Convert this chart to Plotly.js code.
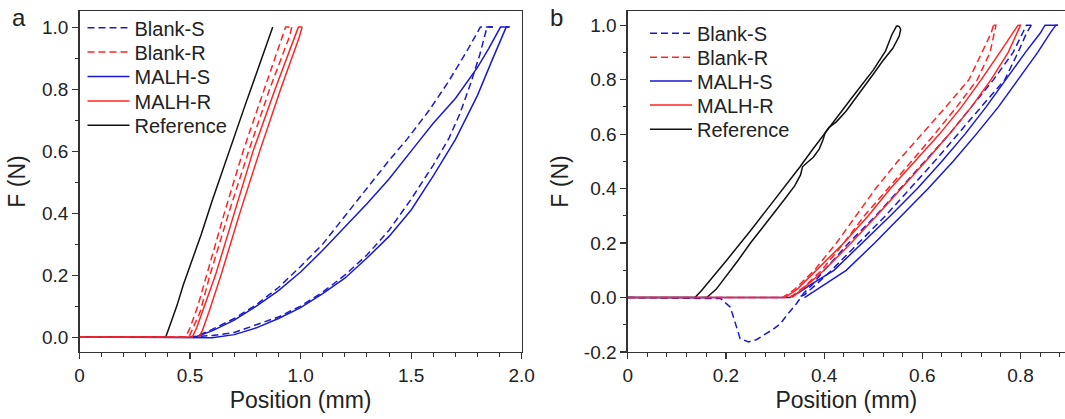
<!DOCTYPE html>
<html>
<head>
<meta charset="utf-8">
<script src="https://cdn.plot.ly/plotly-3.0.1.min.js"></script>
<style>
  html, body { margin: 0; padding: 0; background: #ffffff; }
  #chart { width: 1065px; height: 419px; }
</style>
</head>
<body>
<div id="chart"></div>
<script>
// ---------------- Series names & tick labels ----------------
const seriesNames = ['Blank-S', 'Blank-R', 'MALH-S', 'MALH-R', 'Reference'];

const aXTickVals = [0, 0.5, 1.0, 1.5, 2.0];
const aXTickText = ['0', '0.5', '1.0', '1.5', '2.0'];
const aYTickVals = [0, 0.2, 0.4, 0.6, 0.8, 1.0];
const aYTickText = ['0.0', '0.2', '0.4', '0.6', '0.8', '1.0'];
const bXTickVals = [0, 0.2, 0.4, 0.6, 0.8];
const bXTickText = ['0', '0.2', '0.4', '0.6', '0.8'];
const bYTickVals = [-0.2, 0, 0.2, 0.4, 0.6, 0.8, 1.0];
const bYTickText = ['-0.2', '0.0', '0.2', '0.4', '0.6', '0.8', '1.0'];

// ---------------- Panel a : Position (mm) vs F (N) ----------------
const aRefX = [0, 0.39, 0.41, 0.43, 0.44, 0.47, 0.5, 0.55, 0.6, 0.65, 0.7, 0.75, 0.8, 0.85, 0.874];
const aRefY = [0, 0, 0.04, 0.08, 0.1, 0.17, 0.23, 0.33, 0.44, 0.545, 0.65, 0.75, 0.85, 0.95, 1.0];

const aBlankS1X = [0, 0.49, 0.55, 0.6, 0.7, 0.8, 0.9, 1.0, 1.1, 1.2, 1.3, 1.4, 1.5, 1.6, 1.67, 1.72, 1.77, 1.81, 1.843, 1.87];
const aBlankS1Y = [0, 0, 0.003, 0.005, 0.015, 0.04, 0.065, 0.1, 0.145, 0.2, 0.265, 0.345, 0.445, 0.555, 0.64, 0.72, 0.82, 0.91, 1.0, 1.0];
const aBlankS2X = [1.87, 1.813, 1.75, 1.665, 1.58, 1.48, 1.4, 1.3, 1.2, 1.1, 1.0, 0.9, 0.8, 0.7, 0.6, 0.53, 0.5];
const aBlankS2Y = [1.0, 1.0, 0.92, 0.82, 0.73, 0.637, 0.57, 0.48, 0.39, 0.3, 0.228, 0.16, 0.105, 0.06, 0.025, 0.003, 0];

const aMalhS1X = [0, 0.5, 0.55, 0.6, 0.7, 0.8, 0.9, 1.0, 1.1, 1.2, 1.3, 1.4, 1.5, 1.6, 1.7, 1.8, 1.87, 1.91, 1.93, 1.945];
const aMalhS1Y = [0, 0, 0, -0.002, 0.008, 0.03, 0.06, 0.095, 0.14, 0.19, 0.255, 0.325, 0.41, 0.52, 0.637, 0.78, 0.9, 0.97, 1.0, 1.0];
const aMalhS2X = [1.945, 1.904, 1.85, 1.8, 1.7, 1.6, 1.541, 1.5, 1.4, 1.3, 1.2, 1.1, 1.0, 0.9, 0.8, 0.7, 0.6, 0.53, 0.51];
const aMalhS2Y = [1.0, 1.0, 0.93, 0.87, 0.77, 0.69, 0.637, 0.6, 0.51, 0.43, 0.355, 0.28, 0.21, 0.15, 0.1, 0.055, 0.02, 0.002, 0];

const aBlankR1X = [0, 0.48, 0.5, 0.535, 0.575, 0.655, 0.74, 0.835, 0.932, 0.96];
const aBlankR1Y = [0, 0, 0.03, 0.1, 0.2, 0.4, 0.6, 0.8, 1.0, 1.0];
const aBlankR2X = [0.96, 0.95, 0.86, 0.765, 0.675, 0.59, 0.545, 0.51, 0.495];
const aBlankR2Y = [1.0, 0.97, 0.8, 0.6, 0.4, 0.2, 0.08, 0.02, 0];

const aMalhR1X = [0, 0.51, 0.53, 0.565, 0.615, 0.7, 0.785, 0.885, 0.99, 1.007];
const aMalhR1Y = [0, 0, 0.03, 0.1, 0.2, 0.4, 0.6, 0.8, 1.0, 1.0];
const aMalhR2X = [1.007, 0.995, 0.91, 0.815, 0.725, 0.64, 0.585, 0.555, 0.54];
const aMalhR2Y = [1.0, 0.97, 0.8, 0.6, 0.4, 0.2, 0.08, 0.02, 0];

// ---------------- Panel b ----------------
const bRef1X = [0, 0.137, 0.15, 0.17, 0.2016, 0.25, 0.3, 0.351, 0.375, 0.4, 0.453, 0.5, 0.525, 0.538, 0.548];
const bRef1Y = [0, 0, 0.025, 0.07, 0.137, 0.245, 0.36, 0.48, 0.54, 0.6, 0.725, 0.835, 0.905, 0.965, 0.998];
const bRef2X = [0.548, 0.553, 0.556, 0.553, 0.54, 0.52, 0.5, 0.47, 0.445, 0.425, 0.41, 0.402, 0.398, 0.39, 0.378, 0.365, 0.356, 0.352, 0.34, 0.318, 0.3, 0.275, 0.25, 0.225, 0.2, 0.18, 0.161, 0.15];
const bRef2Y = [0.998, 0.995, 0.985, 0.96, 0.915, 0.87, 0.82, 0.745, 0.685, 0.645, 0.625, 0.605, 0.58, 0.545, 0.515, 0.495, 0.48, 0.45, 0.41, 0.357, 0.315, 0.26, 0.2, 0.137, 0.075, 0.03, 0, 0];

const bBlankS1X = [0, 0.189, 0.209, 0.219, 0.229, 0.246, 0.262, 0.276, 0.295, 0.311, 0.324, 0.344, 0.358, 0.375, 0.4, 0.45, 0.505, 0.555, 0.605, 0.655, 0.7, 0.745, 0.785, 0.812, 0.822];
const bBlankS1Y = [0, -0.004, -0.035, -0.096, -0.151, -0.163, -0.155, -0.139, -0.118, -0.096, -0.065, -0.022, 0.015, 0.045, 0.1, 0.2, 0.3, 0.4, 0.5, 0.6, 0.7, 0.8, 0.9, 1.0, 1.0];
const bBlankS2X = [0.822, 0.812, 0.795, 0.768, 0.72, 0.672, 0.625, 0.575, 0.525, 0.47, 0.415, 0.385, 0.36, 0.345];
const bBlankS2Y = [1.0, 0.97, 0.9, 0.8, 0.7, 0.6, 0.5, 0.4, 0.3, 0.2, 0.1, 0.05, 0.01, 0];

const bBlankR1X = [0, 0.315, 0.34, 0.38, 0.425, 0.465, 0.505, 0.55, 0.6, 0.648, 0.695, 0.722, 0.74, 0.745];
const bBlankR1Y = [0, 0, 0.03, 0.1, 0.2, 0.3, 0.4, 0.5, 0.6, 0.7, 0.8, 0.9, 0.97, 1.0];
const bBlankR2X = [0.745, 0.75, 0.738, 0.712, 0.67, 0.625, 0.578, 0.53, 0.482, 0.44, 0.395, 0.36, 0.33];
const bBlankR2Y = [1.0, 1.0, 0.9, 0.8, 0.7, 0.6, 0.5, 0.4, 0.3, 0.2, 0.1, 0.04, 0];

const bMalhR1X = [0, 0.32, 0.345, 0.385, 0.44, 0.49, 0.535, 0.585, 0.635, 0.68, 0.72, 0.758, 0.795];
const bMalhR1Y = [0, 0, 0.03, 0.1, 0.2, 0.3, 0.4, 0.5, 0.6, 0.7, 0.8, 0.9, 1.0];
const bMalhR2X = [0.795, 0.8, 0.775, 0.74, 0.7, 0.655, 0.607, 0.558, 0.507, 0.455, 0.4, 0.355, 0.335];
const bMalhR2Y = [1.0, 1.0, 0.9, 0.8, 0.7, 0.6, 0.5, 0.4, 0.3, 0.2, 0.1, 0.03, 0];

const bMalhS1X = [0, 0.33, 0.35, 0.375, 0.42, 0.478, 0.535, 0.59, 0.64, 0.687, 0.73, 0.77, 0.81, 0.84, 0.85, 0.876];
const bMalhS1Y = [0, 0, 0.02, 0.05, 0.1, 0.2, 0.3, 0.4, 0.5, 0.6, 0.7, 0.8, 0.9, 0.97, 1.0, 1.0];
const bMalhS2X = [0.876, 0.872, 0.86, 0.835, 0.795, 0.755, 0.71, 0.663, 0.612, 0.558, 0.503, 0.445, 0.395, 0.36];
const bMalhS2Y = [1.0, 1.0, 0.97, 0.9, 0.8, 0.7, 0.6, 0.5, 0.4, 0.3, 0.2, 0.1, 0.04, 0];

// ---------------- Styling ----------------
const FONT = 'Liberation Sans, Arial, Helvetica, sans-serif';
const BLUE = '#1a1ad0';
const RED = '#ff2424';
const BLACK = '#111111';
const DASH = '7px,4px';
const AXC = '#333333';

function tr(x, y, panel, color, dash, legendId, name, show) {
  return {
    type: 'scatter', mode: 'lines', x: x, y: y,
    xaxis: panel === 'a' ? 'x' : 'x2',
    yaxis: panel === 'a' ? 'y' : 'y2',
    line: { color: color, width: 1.5, dash: dash },
    name: name, legend: legendId, legendgroup: panel + name,
    showlegend: show, hoverinfo: 'skip'
  };
}

const data = [
  // panel a (legends 1..5)
  tr(aRefX, aRefY, 'a', BLACK, 'solid', 'legend5', seriesNames[4], true),
  tr(aBlankS1X, aBlankS1Y, 'a', BLUE, DASH, 'legend', seriesNames[0], true),
  tr(aBlankS2X, aBlankS2Y, 'a', BLUE, DASH, 'legend', seriesNames[0], false),
  tr(aMalhS1X, aMalhS1Y, 'a', BLUE, 'solid', 'legend3', seriesNames[2], true),
  tr(aMalhS2X, aMalhS2Y, 'a', BLUE, 'solid', 'legend3', seriesNames[2], false),
  tr(aBlankR1X, aBlankR1Y, 'a', RED, DASH, 'legend2', seriesNames[1], true),
  tr(aBlankR2X, aBlankR2Y, 'a', RED, DASH, 'legend2', seriesNames[1], false),
  tr(aMalhR1X, aMalhR1Y, 'a', RED, 'solid', 'legend4', seriesNames[3], true),
  tr(aMalhR2X, aMalhR2Y, 'a', RED, 'solid', 'legend4', seriesNames[3], false),
  // panel b (legends 6..10)
  tr(bRef1X, bRef1Y, 'b', BLACK, 'solid', 'legend10', seriesNames[4], true),
  tr(bRef2X, bRef2Y, 'b', BLACK, 'solid', 'legend10', seriesNames[4], false),
  tr(bBlankS1X, bBlankS1Y, 'b', BLUE, DASH, 'legend6', seriesNames[0], true),
  tr(bBlankS2X, bBlankS2Y, 'b', BLUE, DASH, 'legend6', seriesNames[0], false),
  tr(bMalhS1X, bMalhS1Y, 'b', BLUE, 'solid', 'legend8', seriesNames[2], true),
  tr(bMalhS2X, bMalhS2Y, 'b', BLUE, 'solid', 'legend8', seriesNames[2], false),
  tr(bBlankR1X, bBlankR1Y, 'b', RED, DASH, 'legend7', seriesNames[1], true),
  tr(bBlankR2X, bBlankR2Y, 'b', RED, DASH, 'legend7', seriesNames[1], false),
  tr(bMalhR1X, bMalhR1Y, 'b', RED, 'solid', 'legend9', seriesNames[3], true),
  tr(bMalhR2X, bMalhR2Y, 'b', RED, 'solid', 'legend9', seriesNames[3], false)
];

function axisBase(extra) {
  return Object.assign({
    showline: true, linecolor: AXC, linewidth: 1.3,
    ticks: 'outside', ticklen: 6, tickwidth: 1.2, tickcolor: AXC,
    showgrid: false, zeroline: false, fixedrange: true,
    tickfont: { family: FONT, size: 19, color: '#222' },
    tickmode: 'array'
  }, extra);
}
function minor(dt) {
  return { tickmode: 'linear', tick0: 0, dtick: dt, ticks: 'outside', ticklen: 3.5, tickwidth: 1, tickcolor: AXC, showgrid: false };
}
function leg(xp, yp) {
  return {
    x: xp, y: yp, xanchor: 'left', yanchor: 'middle', xref: 'paper', yref: 'paper',
    bgcolor: 'rgba(0,0,0,0)', borderwidth: 0, itemwidth: 42,
    font: { family: FONT, size: 20, color: '#222' }
  };
}
const H = 341; // plot height in px
function py(p) { return (352 - p) / H; }

const layout = {
  width: 1065, height: 419,
  margin: { l: 0, r: 0, t: 11, b: 67, pad: 0 },
  paper_bgcolor: '#ffffff', plot_bgcolor: '#ffffff',
  font: { family: FONT, color: '#222' },
  xaxis: axisBase({
    domain: [79.5 / 1065, 521.7 / 1065], range: [0, 2], anchor: 'y', mirror: true,
    tickvals: aXTickVals, ticktext: aXTickText, minor: minor(0.1),
    title: { text: 'Position (mm)', font: { family: FONT, size: 23, color: '#222' }, standoff: 6 }
  }),
  yaxis: axisBase({
    domain: [0, 1], range: [-0.048, 1.052], anchor: 'x', mirror: true,
    tickvals: aYTickVals, ticktext: aYTickText, minor: minor(0.1),
    title: { text: 'F (N)', font: { family: FONT, size: 23, color: '#222' }, standoff: 10 }
  }),
  xaxis2: axisBase({
    domain: [627.7 / 1065, 1], range: [0, 0.8906], anchor: 'y2', mirror: true,
    tickvals: bXTickVals, ticktext: bXTickText, minor: minor(0.04),
    title: { text: 'Position (mm)', font: { family: FONT, size: 23, color: '#222' }, standoff: 6 }
  }),
  yaxis2: axisBase({
    domain: [0, 1], range: [-0.2, 1.052], anchor: 'x2', mirror: false,
    tickvals: bYTickVals, ticktext: bYTickText, minor: minor(0.1),
    title: { text: 'F (N)', font: { family: FONT, size: 23, color: '#222' }, standoff: 8 }
  }),
  legend: leg(82.5 / 1065, py(27.7)),
  legend2: leg(82.5 / 1065, py(52.0)),
  legend3: leg(82.5 / 1065, py(76.5)),
  legend4: leg(82.5 / 1065, py(101.0)),
  legend5: leg(82.5 / 1065, py(125.3)),
  legend6: leg(645 / 1065, py(33.3)),
  legend7: leg(645 / 1065, py(57.3)),
  legend8: leg(645 / 1065, py(81.0)),
  legend9: leg(645 / 1065, py(105.0)),
  legend10: leg(645 / 1065, py(129.3)),
  annotations: [
    { text: 'a', xref: 'paper', yref: 'paper', x: 18.8 / 1065, y: py(17.8), xanchor: 'center', yanchor: 'middle', showarrow: false, font: { family: FONT, size: 24, color: '#222' } },
    { text: 'b', xref: 'paper', yref: 'paper', x: 556 / 1065, y: py(17.8), xanchor: 'center', yanchor: 'middle', showarrow: false, font: { family: FONT, size: 24, color: '#222' } }
  ]
};

Plotly.newPlot('chart', data, layout, { displayModeBar: false, staticPlot: true });
</script>
</body>
</html>
